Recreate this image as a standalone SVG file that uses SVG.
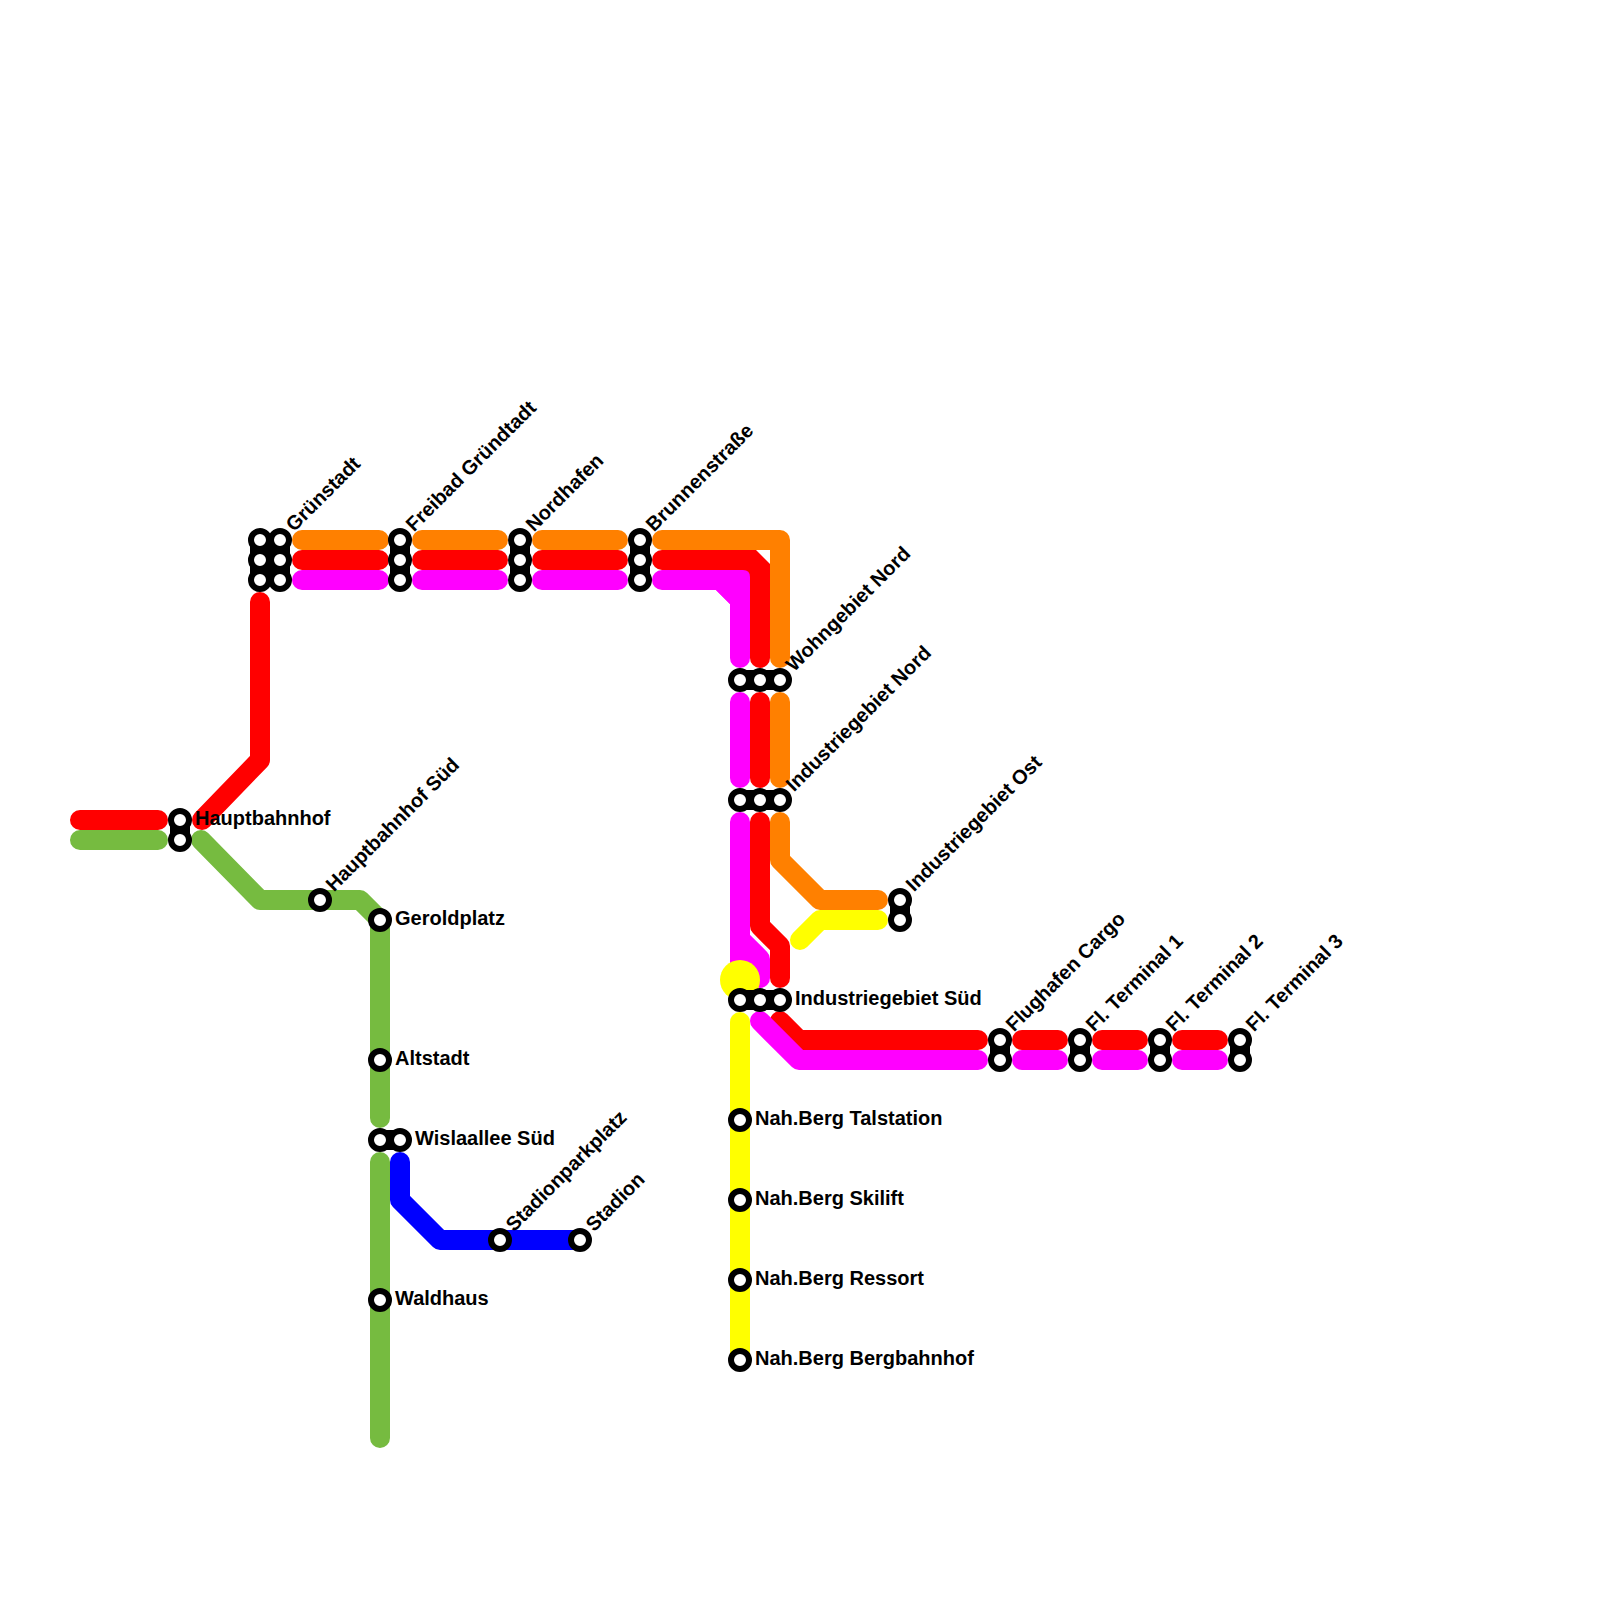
<svg xmlns="http://www.w3.org/2000/svg" width="1600" height="1600" viewBox="0 0 1600 1600">
<style>
.l{fill:none;stroke-width:20;stroke-linecap:round;stroke-linejoin:round}
.o{stroke:#ff8000}.r{stroke:#ff0000}.m{stroke:#ff00ff}.y{stroke:#ffff00}.g{stroke:#76bb40}.b{stroke:#0000ff}
.k{fill:none;stroke:#000;stroke-width:20}
.s{fill:#fff;stroke:#000;stroke-width:6}
text{font-family:"Liberation Sans",Arial,sans-serif;font-weight:700;font-size:20px;fill:#000}
</style>
<rect width="1600" height="1600" fill="#fff"/>
<g id="connectors">
<path class="l g" d="M80 840H158M201 840L260 900H360L380 920V1118M380 1162V1438"/>
<path class="l b" d="M400 1162V1200L440 1240H580"/>
<path class="l o" d="M302 540H379M422 540H498M542 540H618M662 540H780V658M780 702V778M780 822V860L820 900H878"/>
<path class="l y" d="M800 940L820 920H878"/>
<path class="l r" d="M80 820H158M202 820L260 760V602M302 560H379M422 560H498M542 560H618M662 560H750L760 570V658M760 702V778M760 822V926L780 946V978M780 1021L799 1040H978M1022 1040H1058M1102 1040H1138M1182 1040H1218"/>
<path fill="#ff0000" d="M740 550H756L770 564V580H740Z"/>
<path class="l m" d="M302 580H379M422 580H498M542 580H618M662 580H720L740 600V658M740 702V778M740 822V939L760 959V978M760 1021L799 1060H978M1022 1060H1058M1102 1060H1138M1182 1060H1218"/>
<path fill="#ff00ff" d="M716 570H743Q750 570 750 577V604H730L716 590ZM730 930H750V975H730Z"/>
<circle cx="740" cy="980" r="20" fill="#ffff00"/>
<path class="l y" d="M740 1022V1360"/>
</g>
<g id="n-hauptbahnhof"><path class="k" d="M180 820V840"/><circle class="s" cx="180" cy="820" r="9"/><circle class="s" cx="180" cy="840" r="9"/><text x="195" y="825">Hauptbahnhof</text></g>
<g id="n-gruenstadt"><rect x="250" y="540" width="40" height="40"/><circle class="s" cx="260" cy="540" r="9"/><circle class="s" cx="280" cy="540" r="9"/><circle class="s" cx="260" cy="560" r="9"/><circle class="s" cx="280" cy="560" r="9"/><circle class="s" cx="260" cy="580" r="9"/><circle class="s" cx="280" cy="580" r="9"/><text transform="translate(294 532.5) rotate(-45)">Grünstadt</text></g>
<g id="n-freibad"><path class="k" d="M400 540V580"/><circle class="s" cx="400" cy="540" r="9"/><circle class="s" cx="400" cy="560" r="9"/><circle class="s" cx="400" cy="580" r="9"/><text transform="translate(414 532.5) rotate(-45)">Freibad Gründtadt</text></g>
<g id="n-nordhafen"><path class="k" d="M520 540V580"/><circle class="s" cx="520" cy="540" r="9"/><circle class="s" cx="520" cy="560" r="9"/><circle class="s" cx="520" cy="580" r="9"/><text transform="translate(534 532.5) rotate(-45)">Nordhafen</text></g>
<g id="n-brunnenstrasse"><path class="k" d="M640 540V580"/><circle class="s" cx="640" cy="540" r="9"/><circle class="s" cx="640" cy="560" r="9"/><circle class="s" cx="640" cy="580" r="9"/><text transform="translate(654 532.5) rotate(-45)">Brunnenstraße</text></g>
<g id="n-wohngebiet-nord"><path class="k" d="M740 680H780"/><circle class="s" cx="740" cy="680" r="9"/><circle class="s" cx="760" cy="680" r="9"/><circle class="s" cx="780" cy="680" r="9"/><text transform="translate(794 672.5) rotate(-45)">Wohngebiet Nord</text></g>
<g id="n-industriegebiet-nord"><path class="k" d="M740 800H780"/><circle class="s" cx="740" cy="800" r="9"/><circle class="s" cx="760" cy="800" r="9"/><circle class="s" cx="780" cy="800" r="9"/><text transform="translate(794 792.5) rotate(-45)">Industriegebiet Nord</text></g>
<g id="n-industriegebiet-ost"><path class="k" d="M900 900V920"/><circle class="s" cx="900" cy="900" r="9"/><circle class="s" cx="900" cy="920" r="9"/><text transform="translate(914 892.5) rotate(-45)">Industriegebiet Ost</text></g>
<g id="n-industriegebiet-sued"><path class="k" d="M740 1000H780"/><circle class="s" cx="740" cy="1000" r="9"/><circle class="s" cx="760" cy="1000" r="9"/><circle class="s" cx="780" cy="1000" r="9"/><text x="795" y="1005">Industriegebiet Süd</text></g>
<g id="n-flughafen-cargo"><path class="k" d="M1000 1040V1060"/><circle class="s" cx="1000" cy="1040" r="9"/><circle class="s" cx="1000" cy="1060" r="9"/><text transform="translate(1014 1032.5) rotate(-45)">Flughafen Cargo</text></g>
<g id="n-terminal-1"><path class="k" d="M1080 1040V1060"/><circle class="s" cx="1080" cy="1040" r="9"/><circle class="s" cx="1080" cy="1060" r="9"/><text transform="translate(1094 1032.5) rotate(-45)">Fl. Terminal 1</text></g>
<g id="n-terminal-2"><path class="k" d="M1160 1040V1060"/><circle class="s" cx="1160" cy="1040" r="9"/><circle class="s" cx="1160" cy="1060" r="9"/><text transform="translate(1174 1032.5) rotate(-45)">Fl. Terminal 2</text></g>
<g id="n-terminal-3"><path class="k" d="M1240 1040V1060"/><circle class="s" cx="1240" cy="1040" r="9"/><circle class="s" cx="1240" cy="1060" r="9"/><text transform="translate(1254 1032.5) rotate(-45)">Fl. Terminal 3</text></g>
<g id="n-hauptbahnhof-sued"><circle class="s" cx="320" cy="900" r="9"/><text transform="translate(334 892.5) rotate(-45)">Hauptbahnhof Süd</text></g>
<g id="n-geroldplatz"><circle class="s" cx="380" cy="920" r="9"/><text x="395" y="925">Geroldplatz</text></g>
<g id="n-altstadt"><circle class="s" cx="380" cy="1060" r="9"/><text x="395" y="1065">Altstadt</text></g>
<g id="n-wislaallee"><path class="k" d="M380 1140H400"/><circle class="s" cx="380" cy="1140" r="9"/><circle class="s" cx="400" cy="1140" r="9"/><text x="415" y="1145">Wislaallee Süd</text></g>
<g id="n-waldhaus"><circle class="s" cx="380" cy="1300" r="9"/><text x="395" y="1305">Waldhaus</text></g>
<g id="n-stadionparkplatz"><circle class="s" cx="500" cy="1240" r="9"/><text transform="translate(514 1232.5) rotate(-45)">Stadionparkplatz</text></g>
<g id="n-stadion"><circle class="s" cx="580" cy="1240" r="9"/><text transform="translate(594 1232.5) rotate(-45)">Stadion</text></g>
<g id="n-talstation"><circle class="s" cx="740" cy="1120" r="9"/><text x="755" y="1125">Nah.Berg Talstation</text></g>
<g id="n-skilift"><circle class="s" cx="740" cy="1200" r="9"/><text x="755" y="1205">Nah.Berg Skilift</text></g>
<g id="n-ressort"><circle class="s" cx="740" cy="1280" r="9"/><text x="755" y="1285">Nah.Berg Ressort</text></g>
<g id="n-bergbahnhof"><circle class="s" cx="740" cy="1360" r="9"/><text x="755" y="1365">Nah.Berg Bergbahnhof</text></g>
</svg>
